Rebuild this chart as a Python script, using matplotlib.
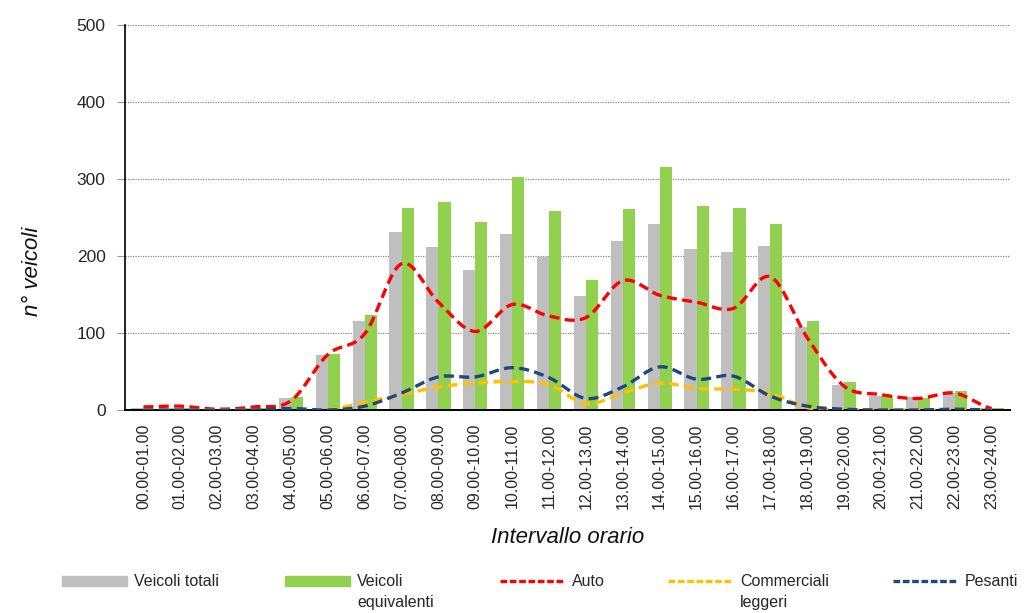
import numpy as np
import matplotlib
matplotlib.use("Agg")
import matplotlib.pyplot as plt
from matplotlib.patches import Patch
from matplotlib.lines import Line2D

plt.rcParams['font.family'] = ['Liberation Sans', 'DejaVu Sans']

categories = ["00.00-01.00", "01.00-02.00", "02.00-03.00", "03.00-04.00", "04.00-05.00",
              "05.00-06.00", "06.00-07.00", "07.00-08.00", "08.00-09.00", "09.00-10.00",
              "10.00-11.00", "11.00-12.00", "12.00-13.00", "13.00-14.00", "14.00-15.00",
              "15.00-16.00", "16.00-17.00", "17.00-18.00", "18.00-19.00", "19.00-20.00",
              "20.00-21.00", "21.00-22.00", "22.00-23.00", "23.00-24.00"]

veicoli_totali = [3, 3, 1, 2, 15, 72, 116, 231, 212, 182, 229, 199, 148, 220, 242,
                  209, 205, 213, 108, 33, 18, 17, 22, 2]
veicoli_equivalenti = [1, 2, 1, 2, 17, 73, 124, 262, 270, 244, 303, 259, 169, 261, 316,
                       265, 262, 242, 115, 36, 18, 16, 25, 2]
auto = [4, 5, 1, 4, 12, 72, 99, 190, 140, 102, 137, 122, 120, 168, 149,
        140, 132, 173, 94, 31, 20, 15, 22, 2]
commerciali = [0, 0, 0, 0, 0, 0, 10, 20, 30, 35, 37, 33, 8, 22, 35,
               28, 27, 22, 3, 0, 0, 0, 0, 0]
pesanti = [0, 0, 0, 0, 2, 0, 5, 22, 43, 43, 55, 42, 15, 30, 56,
           40, 44, 18, 5, 1, 0, 0, 1, 0]


def smooth(y, n=20):
    """Excel-like smoothed line via Catmull-Rom interpolation."""
    y = np.asarray(y, dtype=float)
    x = np.arange(len(y), dtype=float)
    xs, ys = [], []
    for i in range(len(y) - 1):
        p0 = y[i - 1] if i > 0 else y[i]
        p1, p2 = y[i], y[i + 1]
        p3 = y[i + 2] if i + 2 < len(y) else y[i + 1]
        t = np.linspace(0, 1, n, endpoint=False)
        c1 = p1 + (p2 - p0) / 6
        c2 = p2 - (p3 - p1) / 6
        b = (1 - t) ** 3 * p1 + 3 * (1 - t) ** 2 * t * c1 + 3 * (1 - t) * t ** 2 * c2 + t ** 3 * p2
        xs.append(x[i] + t)
        ys.append(b)
    xs.append([x[-1]])
    ys.append([y[-1]])
    return np.concatenate(xs), np.concatenate(ys)


fig = plt.figure(figsize=(10.24, 6.13), dpi=100)
ax = fig.add_axes([125 / 1024, 1 - 410 / 613, 885 / 1024, 385 / 613])

x = np.arange(len(categories))
bw = 0.33
c_grey = "#BFBFBF"
c_green = "#92D050"
c_red = "#FF0000"
c_yellow = "#FFC000"
c_blue = "#1F497D"
c_text = "#262626"

ax.bar(x - bw / 2, veicoli_totali, width=bw, color=c_grey, zorder=2)
ax.bar(x + bw / 2, veicoli_equivalenti, width=bw, color=c_green, zorder=2)

lw = 2.4
for series, col in [(auto, c_red), (commerciali, c_yellow), (pesanti, c_blue)]:
    sx, sy = smooth(series)
    ax.plot(sx, sy, color=col, lw=lw, dashes=(3, 1.6), zorder=3)

ax.set_xlim(-0.5, len(categories) - 0.5)
ax.set_ylim(0, 500)
ax.set_yticks([0, 100, 200, 300, 400, 500])
ax.set_xticks(x)
ax.set_xticklabels(categories, rotation=90, fontsize=11.5, color=c_text)
ax.tick_params(axis='x', length=0, pad=10)
ax.tick_params(axis='y', length=6, color="#999999", labelsize=12.5, labelcolor=c_text, pad=8)
ax.yaxis.grid(True, linestyle=(0, (1, 1)), color="#888888", linewidth=0.9, zorder=0)
ax.set_axisbelow(True)
for s in ["top", "right"]:
    ax.spines[s].set_visible(False)
ax.spines["left"].set_linewidth(1.2)
ax.spines["bottom"].set_linewidth(1.4)

ax.set_xlabel("Intervallo orario", fontsize=16, style="italic", color="#111111")
ax.xaxis.set_label_coords(0.5, -0.305)
ax.set_ylabel("n° veicoli", fontsize=16, style="italic", color="#111111")
ax.yaxis.set_label_coords(-0.093, 0.36)

# legend entries (handle aligned with first line of text)
entries = [
    (Patch(color=c_grey), "Veicoli totali", None, 62),
    (Patch(color=c_green), "Veicoli", "equivalenti", 285),
    (Line2D([], [], color=c_red, lw=lw, dashes=(2, 0.8)), "Auto", None, 500),
    (Line2D([], [], color=c_yellow, lw=lw, dashes=(2, 0.8)), "Commerciali", "leggeri", 668),
    (Line2D([], [], color=c_blue, lw=lw, dashes=(2, 0.8)), "Pesanti", None, 893),
]
ly = 582
lfs = 11.5
for h, l1, l2, px in entries:
    fig.legend(handles=[h], labels=[l1], loc="center left",
               bbox_to_anchor=(px / 1024, 1 - ly / 613), frameon=False,
               fontsize=lfs, handlelength=4.1, handleheight=0.6, handletextpad=0.4,
               borderpad=0, borderaxespad=0, labelcolor=c_text)
    if l2:
        fig.text((px + 72) / 1024, 1 - (ly + 20) / 613, l2, fontsize=lfs,
                 color=c_text, va="center", ha="left")

fig.savefig("out.png", dpi=100)
